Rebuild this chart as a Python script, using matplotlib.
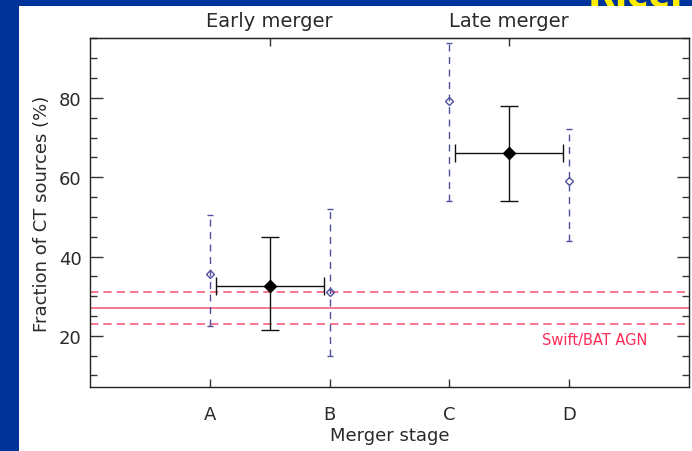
import matplotlib
matplotlib.use("Agg")
import matplotlib.pyplot as plt
from matplotlib.patches import Rectangle
from matplotlib.ticker import MultipleLocator

# ---- data ----
stages = ["A", "B", "C", "D"]
stage_x = [1, 2, 3, 4]
stage_frac = [35.6, 31.0, 79.2, 59.0]
stage_err_lo = [13.0, 16.0, 25.2, 15.0]
stage_err_hi = [14.9, 21.0, 14.7, 13.2]

group_names = ["Early merger", "Late merger"]
group_x = [1.5, 3.5]
group_xerr = [0.45, 0.45]
group_frac = [32.5, 66.0]
group_err_lo = [11.0, 12.0]
group_err_hi = [12.5, 12.0]

bat_frac = 27.0
bat_lo = 23.0
bat_hi = 31.0
bat_label = "Swift/BAT AGN"

W, H = 692, 452
fig = plt.figure(figsize=(W / 100, H / 100), dpi=100)
fig.patch.set_facecolor("#003399")
bg = Rectangle((19 / W, 0), 1, (H - 7) / H, transform=fig.transFigure,
               facecolor="white", edgecolor="none", zorder=-10)
fig.patches.append(bg)
fig.text(588 / W, (H - 6.5) / H, "Ricci", color="#ffee00", fontsize=26,
         fontweight="bold", ha="left", va="baseline", zorder=-20)

ax = fig.add_axes([90 / W, (H - 388) / H, (689 - 90) / W, (388 - 39) / H])
ax.set_zorder(5)
ax.patch.set_alpha(0)
ax.set_xlim(0, 5)
ax.set_ylim(7.1, 95.1)

txt = "#2a2a2a"
pink = "#f4607f"

# Swift/BAT band
ax.axhline(bat_frac, color=pink, lw=1.2, zorder=1)
for v in (bat_lo, bat_hi):
    ax.axhline(v, color=pink, lw=1.2, ls=(0, (5, 3)), zorder=1)
ax.text(4.21, 19.2, bat_label, color="#ff2a55", fontsize=10.5, ha="center", va="center")

# individual stages
eb = ax.errorbar(stage_x, stage_frac, yerr=[stage_err_lo, stage_err_hi], fmt="D",
                 ms=3.6, mfc="none", mec="#5050a0", mew=1.0, ecolor="#5050a0",
                 elinewidth=1.0, capsize=2.2, capthick=1.0, zorder=3)
for lc in eb[2]:
    lc.set_linestyle((0, (5, 4)))

# grouped points
ax.errorbar(group_x, group_frac, xerr=group_xerr, yerr=[group_err_lo, group_err_hi],
            fmt="D", ms=6.5, color="black", ecolor="#111111", elinewidth=1.0,
            capsize=6.8, capthick=1.0, zorder=4)

# axes styling
for s in ax.spines.values():
    s.set_color("#222222")
    s.set_linewidth(1.0)

ax.set_xticks(stage_x)
ax.set_xticklabels(stages)
ax.yaxis.set_major_locator(MultipleLocator(20))
ax.yaxis.set_minor_locator(MultipleLocator(5))
ax.tick_params(axis="y", which="major", direction="in", length=9, width=1.0,
               left=True, right=True, labelsize=13, labelcolor=txt, pad=6, color="#333333")
ax.tick_params(axis="y", which="minor", direction="in", length=5, width=1.0,
               left=True, right=True, color="#333333")
ax.tick_params(axis="x", which="major", direction="in", length=6, width=1.0,
               labelsize=13, labelcolor=txt, pad=13, color="#333333")

sec = ax.secondary_xaxis("top")
sec.set_xticks(group_x)
sec.set_xticklabels(group_names)
sec.tick_params(direction="in", length=6, width=1.0, labelsize=14, labelcolor=txt,
                pad=6, color="#333333")
sec.spines["top"].set_color("#222222")

ax.set_xlabel("Merger stage", fontsize=13, color=txt, labelpad=2)
ax.set_ylabel("Fraction of CT sources (%)", fontsize=13, color=txt, labelpad=6)

fig.savefig("out.png", dpi=100, facecolor=fig.get_facecolor())
